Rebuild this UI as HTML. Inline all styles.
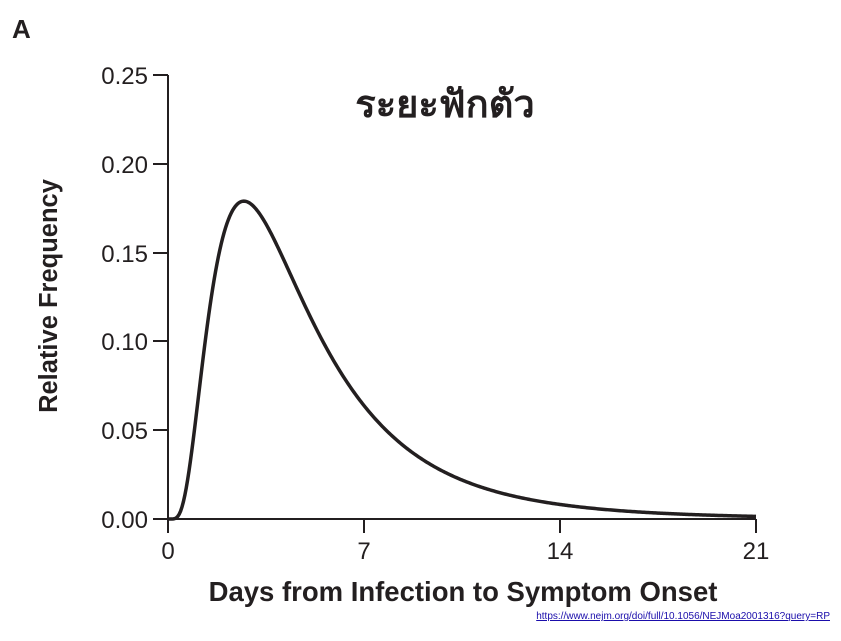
<!DOCTYPE html>
<html><head><meta charset="utf-8"><style>
html,body{margin:0;padding:0;background:#fff;}
svg{display:block;}
text{font-family:"Liberation Sans","Noto Sans CJK SC",sans-serif;fill:#231f20;}
</style></head><body>
<svg id="s" width="841" height="641" viewBox="0 0 841 641">
<text x="12" y="38" font-size="26" font-weight="bold">A</text>
<g stroke="#231f20" stroke-width="2" fill="none">
<path d="M168,75 V519 H756"/>
<path d="M153,75 H168 M153,164 H168 M153,253 H168 M153,341 H168 M153,430 H168 M153,519 H168"/>
<path d="M168,519 V533 M364,519 V533 M560,519 V533 M756,519 V533"/>
</g>
<g font-size="24" text-anchor="end">
<text x="148" y="84">0.25</text>
<text x="148" y="173">0.20</text>
<text x="148" y="262">0.15</text>
<text x="148" y="350">0.10</text>
<text x="148" y="439">0.05</text>
<text x="148" y="528">0.00</text>
</g>
<g font-size="24" text-anchor="middle">
<text x="168" y="559">0</text>
<text x="364" y="559">7</text>
<text x="560" y="559">14</text>
<text x="756" y="559">21</text>
</g>
<text x="463" y="601" font-size="27.5" font-weight="bold" text-anchor="middle">Days from Infection to Symptom Onset</text>
<text transform="translate(57,296) rotate(-90)" font-size="25.5" font-weight="bold" text-anchor="middle">Relative Frequency</text>
<text x="445" y="117" font-size="38" font-weight="bold" text-anchor="middle">ระยะฟักตัว</text>
<text x="830" y="619" font-size="10" text-anchor="end" style="fill:#1a0dab" text-decoration="underline">https://www.nejm.org/doi/full/10.1056/NEJMoa2001316?query=RP</text>
<path id="c" fill="none" stroke="#231f20" stroke-width="3.5"/>
</svg>
<script>
var mu=1.434,sg=0.661,d="";
for(var i=0;i<=420;i++){var t=i*21/420;var f=0;if(t>0){f=Math.exp(-Math.pow(Math.log(t)-mu,2)/(2*sg*sg))/(t*sg*Math.sqrt(2*Math.PI));}
var x=168+t*28,y=519-f*1776;d+=(i?"L":"M")+x.toFixed(2)+","+y.toFixed(2);}
document.getElementById("c").setAttribute("d",d);
</script>
</body></html>
